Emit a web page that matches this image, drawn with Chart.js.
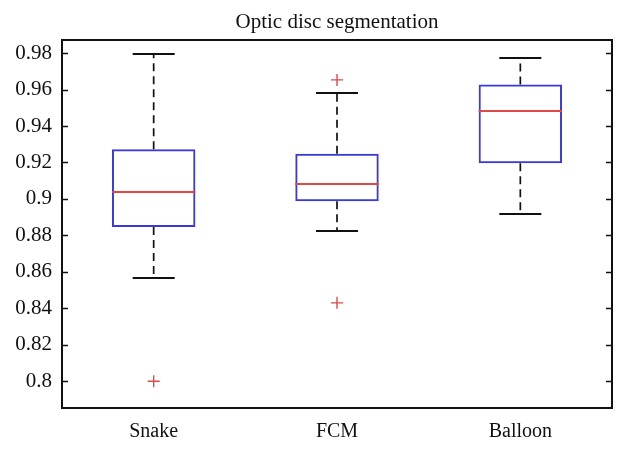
<!DOCTYPE html>
<html>
<head>
<meta charset="utf-8">
<script src="https://cdn.jsdelivr.net/npm/chart.js@4/dist/chart.umd.min.js"></script>
<style>
html,body{margin:0;padding:0;background:#fff;}
#wrap{width:625px;height:451px;position:relative;}
</style>
</head>
<body>
<div id="wrap"><canvas id="c" width="625" height="451"></canvas></div>
<script>
const chartTitle = 'Optic disc segmentation';
const categories = ['Snake', 'FCM', 'Balloon'];
const lowerWhisker = [0.8567, 0.8826, 0.8917];
const q1Values     = [0.8846, 0.8987, 0.9196];
const medianValues = [0.9040, 0.9084, 0.9482];
const q3Values     = [0.9272, 0.9248, 0.9628];
const upperWhisker = [0.9794, 0.9580, 0.9772];
const outlierCategories = ['Snake', 'FCM', 'FCM'];
const outlierValues     = [0.800, 0.9653, 0.843];
const yTicks = [0.8, 0.82, 0.84, 0.86, 0.88, 0.9, 0.92, 0.94, 0.96, 0.98];
const yMin = 0.7853, yMax = 0.9872;

const FONT = "'Liberation Serif', 'Times New Roman', serif";
const BLUE = '#3a3ad8', RED = '#e04848', BLACK = '#111';

const boxPlugin = {
  id: 'boxExtras',
  afterDatasetsDraw(chart) {
    const ctx = chart.ctx, x = chart.scales.x, y = chart.scales.y;
    const capHalf = 21;
    ctx.save();
    categories.forEach((c, i) => {
      const cx = x.getPixelForValue(i);
      const meta = chart.getDatasetMeta(0).data[i];
      const half = meta.width / 2;
      // whiskers (dashed)
      ctx.strokeStyle = BLACK; ctx.lineWidth = 1.7; ctx.setLineDash([8, 5]);
      ctx.beginPath();
      ctx.moveTo(cx, y.getPixelForValue(q3Values[i])); ctx.lineTo(cx, y.getPixelForValue(upperWhisker[i]));
      ctx.moveTo(cx, y.getPixelForValue(q1Values[i])); ctx.lineTo(cx, y.getPixelForValue(lowerWhisker[i]));
      ctx.stroke();
      ctx.setLineDash([]);
      ctx.lineWidth = 2;
      ctx.beginPath();
      const yu = Math.round(y.getPixelForValue(upperWhisker[i]));
      const yl = Math.round(y.getPixelForValue(lowerWhisker[i]));
      ctx.moveTo(cx - capHalf, yu); ctx.lineTo(cx + capHalf, yu);
      ctx.moveTo(cx - capHalf, yl); ctx.lineTo(cx + capHalf, yl);
      ctx.stroke();
      // median
      ctx.strokeStyle = RED; ctx.lineWidth = 2;
      const ym = Math.round(y.getPixelForValue(medianValues[i]));
      ctx.beginPath(); ctx.moveTo(cx - half, ym); ctx.lineTo(cx + half, ym); ctx.stroke();
    });
    // frame
    const a = chart.chartArea;
    ctx.strokeStyle = BLACK; ctx.lineWidth = 2;
    ctx.strokeRect(a.left, a.top, a.right - a.left, a.bottom - a.top);
    // inward ticks left & right
    ctx.lineWidth = 1.5;
    ctx.beginPath();
    yTicks.forEach(v => {
      const py = Math.round(y.getPixelForValue(v)) + 0.5;
      ctx.moveTo(a.left, py); ctx.lineTo(a.left + 6, py);
      ctx.moveTo(a.right, py); ctx.lineTo(a.right - 6, py);
    });
    ctx.stroke();
    // title
    ctx.fillStyle = '#111';
    ctx.font = "21px " + FONT;
    ctx.textAlign = 'center'; ctx.textBaseline = 'alphabetic';
    ctx.fillText(chartTitle, (a.left + a.right) / 2, 28);
    ctx.restore();
  }
};

new Chart(document.getElementById('c'), {
  type: 'bar',
  data: {
    labels: categories,
    datasets: [
      {
        type: 'bar',
        data: categories.map((c, i) => [q1Values[i], q3Values[i]]),
        backgroundColor: 'rgba(0,0,0,0)',
        borderColor: BLUE,
        borderWidth: 2,
        borderSkipped: false,
        barPercentage: 1,
        categoryPercentage: 0.455
      },
      {
        type: 'line',
        data: outlierCategories.map((c, i) => ({x: c, y: outlierValues[i]})),
        showLine: false,
        pointStyle: 'cross',
        pointRadius: 6,
        pointBorderWidth: 1.4,
        pointBorderColor: RED,
        pointBackgroundColor: RED
      }
    ]
  },
  options: {
    responsive: false,
    animation: false,
    devicePixelRatio: 1,
    layout: { padding: { left: 0, right: 13, top: 40, bottom: 0 } },
    plugins: { legend: { display: false }, title: { display: false }, tooltip: { enabled: false } },
    scales: {
      x: {
        grid: { display: false, drawTicks: false },
        border: { display: false },
        ticks: { color: '#111', font: { family: FONT, size: 20 }, padding: 12 },
        afterFit: s => { s.height = 43; }
      },
      y: {
        min: yMin, max: yMax,
        grid: { display: false, drawTicks: false },
        border: { display: false },
        afterBuildTicks: s => { s.ticks = yTicks.map(v => ({ value: v })); },
        ticks: { color: '#111', font: { family: FONT, size: 21 }, padding: 10,
                 callback: v => String(+Number(v).toFixed(2)) },
        afterFit: s => { s.width = 62; }
      }
    }
  },
  plugins: [boxPlugin]
});
</script>
</body>
</html>
